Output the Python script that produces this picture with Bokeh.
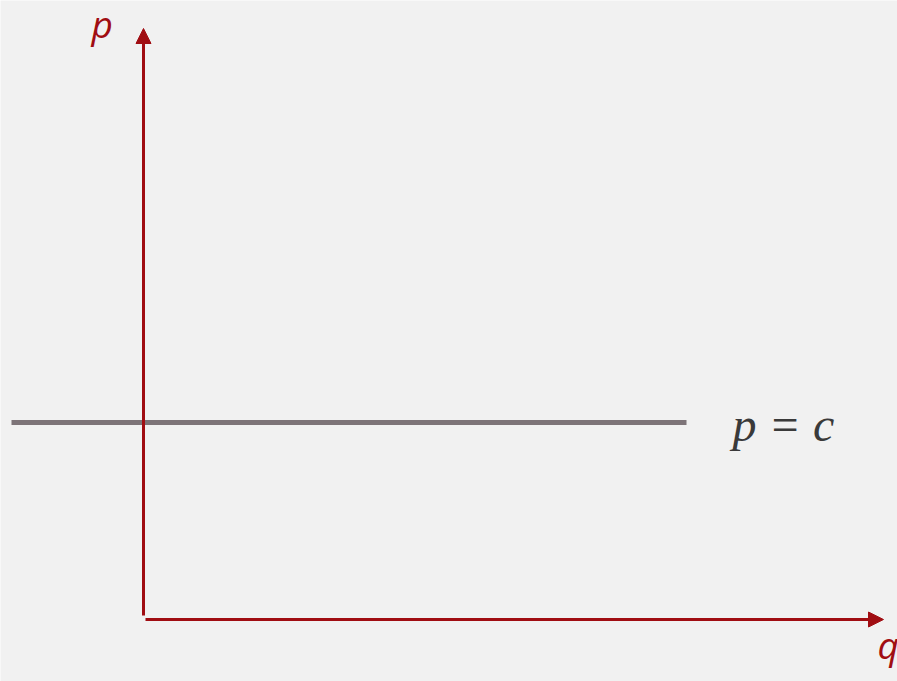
from bokeh.plotting import figure
from bokeh.models import Range1d, Arrow, NormalHead
from bokeh.core.properties import value
from bokeh.embed import file_html
from bokeh.resources import INLINE

# Data (pixel-scale units, origin at axes intersection)
price_level = [197]          # p = c
line_q = [-132, 543]         # extent of horizontal cost line
axis_q_max = 740
axis_p_max = 591
curve_label = ["p = c"]
x_label = ["q"]
y_label = ["p"]

W, H = 897, 681
p = figure(width=W, height=H, output_backend="svg", toolbar_location=None,
           x_range=Range1d(-143, -143 + W), y_range=Range1d(-62, -62 + H),
           min_border=0)
p.axis.visible = False
p.grid.visible = False
p.outline_line_color = None
bg = "#f1f1f1"
p.background_fill_color = bg
p.border_fill_color = bg

red = "#a00d12"

# axes arrows
p.add_layout(Arrow(end=NormalHead(size=15, fill_color=red, line_color=red),
                   x_start=0, y_start=4, x_end=0, y_end=axis_p_max,
                   line_color=red, line_width=3))
p.add_layout(Arrow(end=NormalHead(size=15, fill_color=red, line_color=red),
                   x_start=2, y_start=0, x_end=axis_q_max, y_end=0,
                   line_color=red, line_width=3))

# p = c line
p.line(x=line_q, y=[price_level[0]] * 2, line_color="#7d7478", line_width=5)

p.text(x=[589], y=[195], text=curve_label, text_font=value("Liberation Serif"),
       text_font_style="italic", text_font_size="48px", text_color="#3a3a3a",
       text_baseline="alphabetic", text_align="left")

p.text(x=[-52], y=[596], text=y_label, text_font=value("Open Sans"),
       text_font_style="italic", text_font_size="37px", text_color=red,
       text_baseline="alphabetic", text_align="left")
p.text(x=[734], y=[-25], text=x_label, text_font=value("Open Sans"),
       text_font_style="italic", text_font_size="37px", text_color=red,
       text_baseline="alphabetic", text_align="left")

html = file_html(p, INLINE)
html = html.replace("<body>", '<body style="margin:0;background:%s">' % bg, 1)
open("out.html", "w").write(html)
